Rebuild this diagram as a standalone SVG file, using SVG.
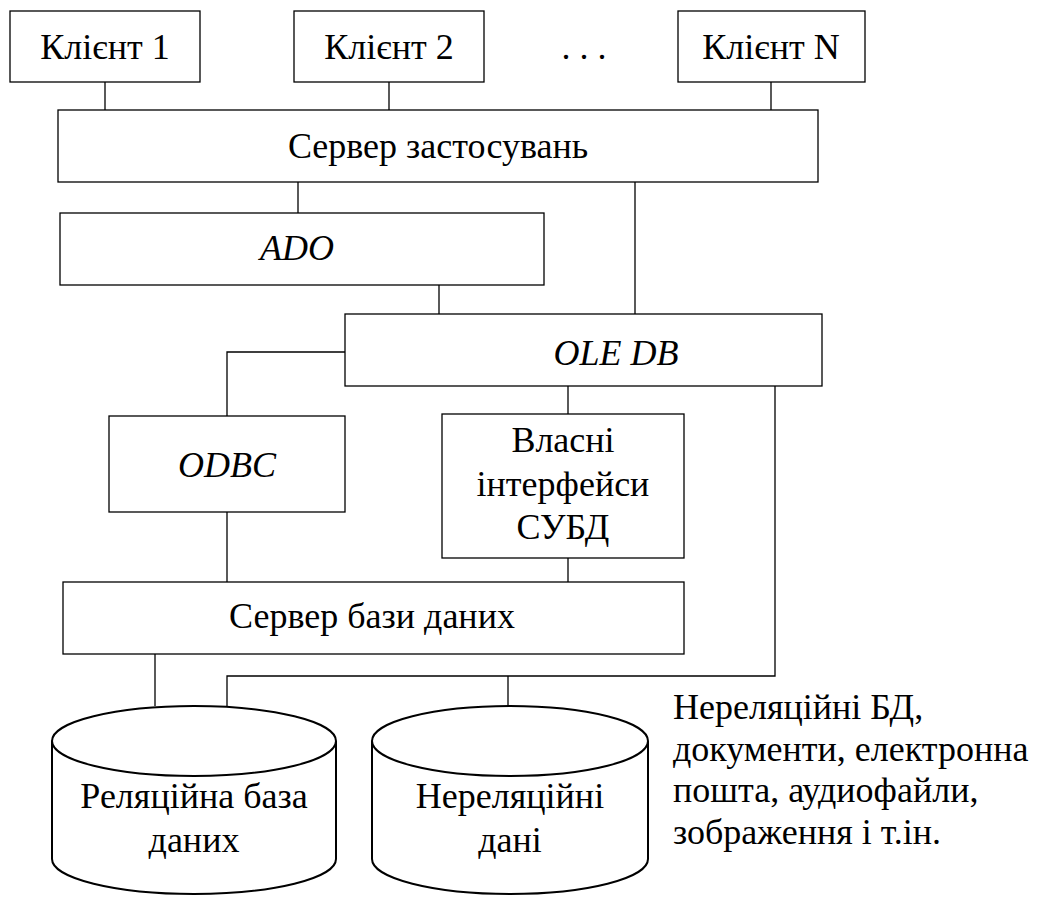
<svg xmlns="http://www.w3.org/2000/svg" width="1057" height="897" viewBox="0 0 1057 897">
<style>
rect.b{fill:#fff;stroke:#000;stroke-width:1.3}
.cyl{fill:#fff;stroke:#000;stroke-width:2}
text{font-family:'Liberation Serif',Tinos,'Times New Roman','DejaVu Serif',serif;font-size:36px;fill:#000}
text.c{text-anchor:middle}
text.i{font-style:italic}
#connectors path{fill:none;stroke:#000;stroke-width:1.3}
</style>
<rect width="1057" height="897" fill="#fff"/>
<g id="connectors">
<path d="M105 82V110"/>
<path d="M389 82V110"/>
<path d="M771 82V110"/>
<path d="M298 182V213"/>
<path d="M635 182V314"/>
<path d="M439 285V314"/>
<path d="M345 352H227V416"/>
<path d="M568 386V414"/>
<path d="M775 386V676H227V706"/>
<path d="M508 676V706"/>
<path d="M227 512V582"/>
<path d="M568 558V582"/>
<path d="M155 654V706"/>
</g>
<g id="client1"><rect class="b" x="10" y="11" width="190" height="71"/><text class="c" x="105" y="59" font-family="Liberation Serif, serif">Клієнт 1</text></g>
<g id="client2"><rect class="b" x="294" y="11" width="190" height="71"/><text class="c" x="389" y="59">Клієнт 2</text></g>
<g id="dots"><text class="c" x="584" y="59">. . .</text></g>
<g id="clientN"><rect class="b" x="678" y="11" width="187" height="71"/><text class="c" x="771" y="59">Клієнт N</text></g>
<g id="appserver"><rect class="b" x="58" y="110" width="760" height="72"/><text class="c" x="438" y="158">Сервер застосувань</text></g>
<g id="ado"><rect class="b" x="60" y="213" width="484" height="72"/><text class="c i" x="297" y="260">ADO</text></g>
<g id="oledb"><rect class="b" x="345" y="314" width="477" height="72"/><text class="c i" x="616" y="365">OLE DB</text></g>
<g id="odbc"><rect class="b" x="109" y="416" width="236" height="96"/><text class="c i" x="227" y="477">ODBC</text></g>
<g id="native"><rect class="b" x="442" y="414" width="242" height="144"/>
<text class="c" x="563" y="452">Власні</text><text class="c" x="563" y="496">інтерфейси</text><text class="c" x="563" y="539">СУБД</text></g>
<g id="dbserver"><rect class="b" x="63" y="582" width="621" height="72"/><text class="c" x="372" y="628">Сервер бази даних</text></g>
<g id="reldb">
<path class="cyl" d="M52 741V859A142 35 0 0 0 336 859V741A142 35 0 0 0 52 741A142 35 0 0 0 336 741"/>
<text class="c" x="194" y="808">Реляційна база</text><text class="c" x="194" y="852">даних</text></g>
<g id="nonrel">
<path class="cyl" d="M372 741V859A138 35 0 0 0 648 859V741A138 35 0 0 0 372 741A138 35 0 0 0 648 741"/>
<text class="c" x="510" y="808">Нереляційні</text><text class="c" x="510" y="852">дані</text></g>
<g id="note">
<text x="673" y="719">Нереляційні БД,</text>
<text x="673" y="761">документи, електронна</text>
<text x="673" y="802">пошта, аудиофайли,</text>
<text x="673" y="844">зображення і т.ін.</text>
</g>
</svg>
